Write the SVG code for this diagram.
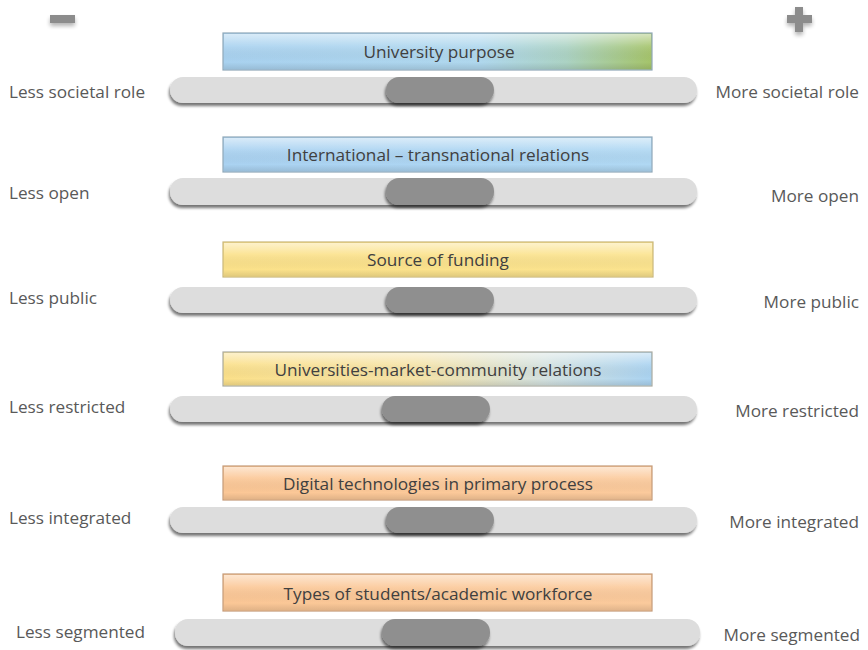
<svg xmlns="http://www.w3.org/2000/svg" width="868" height="650" viewBox="0 0 868 650">
<defs>
<style>
.lbl{font-family:"Open Sans","Noto Sans","Liberation Sans",sans-serif;font-size:17.2px;fill:#595959}
.ttl{font-family:"Open Sans","Noto Sans","Liberation Sans",sans-serif;font-size:17.2px;fill:#404040;text-anchor:middle}
.r{text-anchor:end}
.track{fill:#dddddd;filter:url(#sh)}
.knob{fill:#8f8f8f;filter:url(#sh)}
.box{stroke-width:1.2}
.gloss{fill:url(#gloss)}
</style>
<filter id="sh" x="-10%" y="-40%" width="120%" height="190%">
<feGaussianBlur in="SourceAlpha" stdDeviation="1.6"/>
<feOffset dx="-1" dy="2.5" result="b"/>
<feComponentTransfer><feFuncA type="linear" slope="0.55"/></feComponentTransfer>
<feMerge><feMergeNode/><feMergeNode in="SourceGraphic"/></feMerge>
</filter>
<filter id="sb" x="-50%" y="-80%" width="200%" height="260%">
<feGaussianBlur in="SourceAlpha" stdDeviation="2"/>
<feOffset dx="0" dy="3"/>
<feComponentTransfer><feFuncA type="linear" slope="0.3"/></feComponentTransfer>
<feMerge><feMergeNode/><feMergeNode in="SourceGraphic"/></feMerge>
</filter>
<linearGradient id="gloss" x1="0" y1="0" x2="0" y2="1">
<stop offset="0" stop-color="#fff" stop-opacity="0.55"/>
<stop offset="0.35" stop-color="#fff" stop-opacity="0.1"/>
<stop offset="0.8" stop-color="#000" stop-opacity="0"/>
<stop offset="1" stop-color="#000" stop-opacity="0.1"/>
</linearGradient>
<linearGradient id="gBG" x1="0" y1="0" x2="1" y2="0">
<stop offset="0" stop-color="#a9d2f0"/>
<stop offset="0.6" stop-color="#b0d8ee"/>
<stop offset="0.8" stop-color="#acd3c4"/>
<stop offset="1" stop-color="#a5c46a"/>
</linearGradient>
<linearGradient id="gB" x1="0" y1="0" x2="1" y2="0">
<stop offset="0" stop-color="#aad2f1"/>
<stop offset="1" stop-color="#b0d8f3"/>
</linearGradient>
<linearGradient id="gY" x1="0" y1="0" x2="1" y2="0">
<stop offset="0" stop-color="#fbe18a"/>
<stop offset="1" stop-color="#fbe38e"/>
</linearGradient>
<linearGradient id="gYB" x1="0" y1="0" x2="1" y2="0">
<stop offset="0" stop-color="#fbe08a"/>
<stop offset="0.45" stop-color="#f5e3a8"/>
<stop offset="0.75" stop-color="#d4e2e0"/>
<stop offset="1" stop-color="#aad3f1"/>
</linearGradient>
<linearGradient id="gO" x1="0" y1="0" x2="1" y2="0">
<stop offset="0" stop-color="#fbc796"/>
<stop offset="1" stop-color="#fbca9c"/>
</linearGradient>
</defs>

<g id="minus"><rect x="50" y="15" width="25" height="8" fill="#8c8c8c" filter="url(#sb)"/></g>
<g id="plus"><path d="M795 7h8v8h9v8h-9v9h-8v-9h-8v-8h8z" fill="#8c8c8c" filter="url(#sb)"/></g>

<g id="row1">
<rect class="box" x="223" y="33" width="429" height="37" fill="url(#gBG)" stroke="#8fa7b8"/>
<rect x="224" y="34" width="427" height="35" class="gloss"/>
<text class="ttl" x="439" y="58">University purpose</text>
<rect class="track" x="170" y="77" width="527" height="26" rx="13"/>
<rect class="knob" x="386" y="77" width="108" height="26" rx="13"/>
<text class="lbl" x="9" y="98">Less societal role</text>
<text class="lbl r" x="859" y="98">More societal role</text>
</g>

<g id="row2">
<rect class="box" x="223" y="137" width="429" height="35" fill="url(#gB)" stroke="#8fa7b8"/>
<rect x="224" y="138" width="427" height="33" class="gloss"/>
<text class="ttl" x="438" y="161">International – transnational relations</text>
<rect class="track" x="170" y="178" width="527" height="27" rx="13"/>
<rect class="knob" x="386" y="178" width="108" height="27" rx="13"/>
<text class="lbl" x="9" y="199">Less open</text>
<text class="lbl r" x="859" y="202">More open</text>
</g>

<g id="row3">
<rect class="box" x="223" y="242" width="430" height="35" fill="url(#gY)" stroke="#c8b67a"/>
<rect x="224" y="243" width="428" height="33" class="gloss"/>
<text class="ttl" x="438" y="266">Source of funding</text>
<rect class="track" x="170" y="287" width="527" height="26" rx="13"/>
<rect class="knob" x="386" y="287" width="108" height="26" rx="13"/>
<text class="lbl" x="9" y="304">Less public</text>
<text class="lbl r" x="859" y="308">More public</text>
</g>

<g id="row4">
<rect class="box" x="223" y="352" width="429" height="34" fill="url(#gYB)" stroke="#a9aaa0"/>
<rect x="224" y="353" width="427" height="32" class="gloss"/>
<text class="ttl" x="438" y="376">Universities-market-community relations</text>
<rect class="track" x="170" y="396" width="527" height="26" rx="13"/>
<rect class="knob" x="382" y="396" width="108" height="26" rx="13"/>
<text class="lbl" x="9" y="413">Less restricted</text>
<text class="lbl r" x="859" y="417">More restricted</text>
</g>

<g id="row5">
<rect class="box" x="223" y="466" width="429" height="34" fill="url(#gO)" stroke="#c49a78"/>
<rect x="224" y="467" width="427" height="32" class="gloss"/>
<text class="ttl" x="438" y="490">Digital technologies in primary process</text>
<rect class="track" x="170" y="507" width="527" height="26" rx="13"/>
<rect class="knob" x="386" y="507" width="108" height="26" rx="13"/>
<text class="lbl" x="9" y="524">Less integrated</text>
<text class="lbl r" x="859" y="528">More integrated</text>
</g>

<g id="row6">
<rect class="box" x="223" y="574" width="429" height="37" fill="url(#gO)" stroke="#c49a78"/>
<rect x="224" y="575" width="427" height="35" class="gloss"/>
<text class="ttl" x="438" y="600">Types of students/academic workforce</text>
<rect class="track" x="175" y="619" width="525" height="27" rx="13"/>
<rect class="knob" x="382" y="619" width="108" height="27" rx="13"/>
<text class="lbl" x="16" y="638">Less segmented</text>
<text class="lbl r" x="860" y="641">More segmented</text>
</g>
</svg>
